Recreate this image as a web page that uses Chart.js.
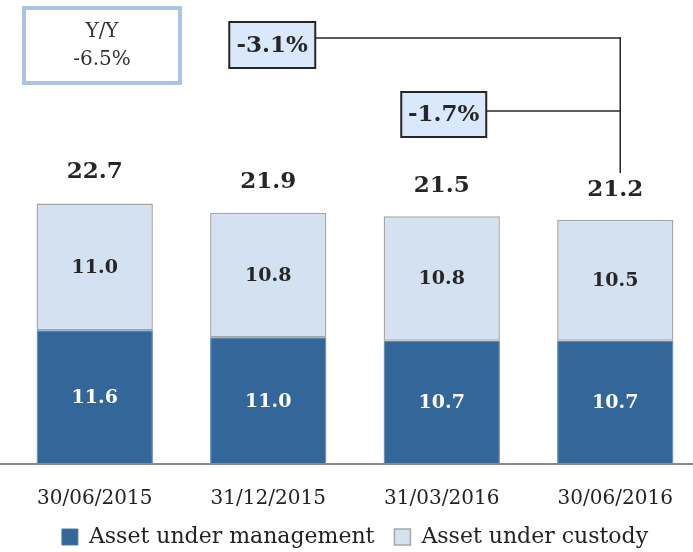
<!DOCTYPE html>
<html>
<head>
<meta charset="utf-8">
<script src="https://cdn.jsdelivr.net/npm/chart.js@4"></script>
<style>
  html, body { margin: 0; padding: 0; background: #fff; overflow: hidden; }
  #wrap { width: 702px; height: 552px; }
</style>
</head>
<body>
<div id="wrap"><canvas id="assetChart" width="702" height="552"></canvas></div>
<script>
// Data
const categories = ['30/06/2015', '31/12/2015', '31/03/2016', '30/06/2016'];
const managed = [11.6, 11.0, 10.7, 10.7];
const custody = [11.0, 10.8, 10.8, 10.5];
const totals = [22.7, 21.9, 21.5, 21.2];
const yoyLines = ['Y/Y', '-6.5%'];
const changeLabels = ['-3.1%', '-1.7%'];

const FONT = "'DejaVu Serif', serif";
const DARK = '#336699';
const LIGHT = '#D3E1F0';

// Pull the legend a bit closer to the bottom edge
const legendShift = {
    id: 'legendShift',
    beforeLayout(chart) {
        const lg = chart.legend;
        if (lg && !lg._shifted) {
            const fit = lg.fit;
            lg.fit = function () {
                fit.call(this);
                this.height -= 6;
            };
            lg._shifted = true;
        }
    }
};

// Labels, callouts and the base line
const overlay = {
    id: 'overlay',
    afterDatasetsDraw(chart) {
        const ctx = chart.ctx;
        const xs = chart.scales.x;
        const ys = chart.scales.y;
        ctx.save();
        ctx.textAlign = 'center';
        ctx.textBaseline = 'middle';

        // values inside segments
        chart.data.datasets.forEach((ds, di) => {
            const meta = chart.getDatasetMeta(di);
            meta.data.forEach((bar, i) => {
                ctx.font = 'bold 19px ' + FONT;
                ctx.fillStyle = di === 0 ? '#ffffff' : '#262626';
                ctx.fillText(ds.data[i].toFixed(1), bar.x, (bar.y + bar.base) / 2 + 1);
            });
        });

        // totals above bars
        totals.forEach((t, i) => {
            ctx.font = 'bold 23px ' + FONT;
            ctx.fillStyle = '#262626';
            ctx.fillText(t.toFixed(1), xs.getPixelForValue(i), ys.getPixelForValue(t) - 30);
        });

        // base line
        ctx.strokeStyle = '#8c8c8c';
        ctx.lineWidth = 2;
        ctx.beginPath();
        ctx.moveTo(0, chart.chartArea.bottom);
        ctx.lineTo(chart.width, chart.chartArea.bottom);
        ctx.stroke();

        // Y/Y box
        ctx.strokeStyle = '#A9C5E3';
        ctx.lineWidth = 4;
        ctx.strokeRect(24, 8, 156, 75);
        ctx.font = '20px ' + FONT;
        ctx.fillStyle = '#333333';
        ctx.fillText(yoyLines[0], 102, 32);
        ctx.fillText(yoyLines[1], 102, 60);

        // change callouts
        const lineX = xs.getPixelForValue(3) + 5;
        const boxes = [
            { cx: xs.getPixelForValue(1) + 4, top: 22, h: 46, w: 86, lineY: 38 },
            { cx: xs.getPixelForValue(2) + 2, top: 92, h: 45, w: 85, lineY: 111 }
        ];
        ctx.strokeStyle = '#262626';
        ctx.lineWidth = 1.5;
        boxes.forEach(b => {
            ctx.beginPath();
            ctx.moveTo(b.cx + b.w / 2, b.lineY);
            ctx.lineTo(lineX, b.lineY);
            ctx.stroke();
        });
        ctx.beginPath();
        ctx.moveTo(lineX, 37);
        ctx.lineTo(lineX, 173);
        ctx.stroke();

        boxes.forEach((b, i) => {
            ctx.fillStyle = '#DAE8FC';
            ctx.fillRect(b.cx - b.w / 2, b.top, b.w, b.h);
            ctx.lineWidth = 2;
            ctx.strokeStyle = '#262626';
            ctx.strokeRect(b.cx - b.w / 2, b.top, b.w, b.h);
            ctx.font = 'bold 23px ' + FONT;
            ctx.fillStyle = '#262626';
            ctx.fillText(changeLabels[i], b.cx, b.top + b.h / 2 + 1);
        });

        ctx.restore();
    }
};

new Chart(document.getElementById('assetChart'), {
    type: 'bar',
    data: {
        labels: categories,
        datasets: [
            {
                label: 'Asset under management',
                data: managed,
                backgroundColor: DARK,
                borderColor: '#4A7AB0',
                borderWidth: 1,
                borderSkipped: false,
                barPercentage: 0.67,
                categoryPercentage: 1
            },
            {
                label: 'Asset under custody',
                data: custody,
                backgroundColor: LIGHT,
                borderColor: '#A6A6A6',
                borderWidth: 1.5,
                borderSkipped: false,
                barPercentage: 0.67,
                categoryPercentage: 1
            }
        ]
    },
    options: {
        responsive: false,
        animation: false,
        layout: { padding: { left: 8, right: 0, top: 3, bottom: 0 } },
        plugins: {
            legend: {
                position: 'bottom',
                labels: {
                    font: { family: FONT, size: 22 },
                    color: '#222222',
                    boxWidth: 16,
                    boxHeight: 16,
                    padding: 20
                }
            },
            tooltip: { enabled: false }
        },
        scales: {
            x: {
                stacked: true,
                grid: { display: false, drawTicks: false },
                border: { display: false },
                ticks: {
                    font: { family: FONT, size: 20 },
                    color: '#222222',
                    padding: 23
                },
                afterFit: (scale) => { scale.height = 42; }
            },
            y: {
                stacked: true,
                display: false,
                min: 0,
                max: 40
            }
        }
    },
    plugins: [legendShift, overlay]
});
</script>
</body>
</html>
